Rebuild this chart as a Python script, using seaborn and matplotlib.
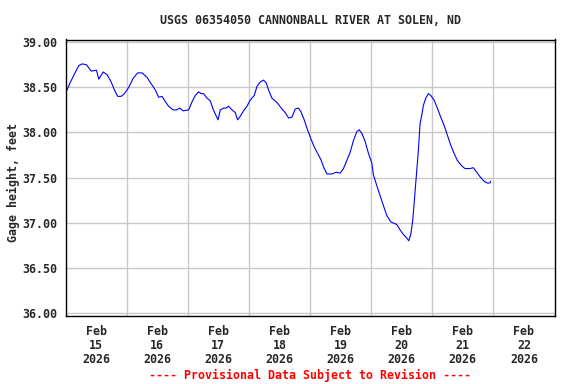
import matplotlib
matplotlib.use("Agg")
import matplotlib.pyplot as plt
import matplotlib.dates as mdates
import seaborn as sns
import pandas as pd
import numpy as np

# Data: hours since 2026-02-15 00:00 and gage height (feet)
hours = [0.27, 1.96, 3.92, 5.22, 6.55, 8.24, 10.08, 12.16, 13.06, 14.78, 16.35, 17.92,
         19.22, 20.51, 21.84, 23.14, 24.82, 26.55, 28.35, 30.08, 32.04, 33.61, 35.29,
         36.59, 37.92, 39.22, 40.51, 42.24, 43.53, 44.82, 46.16, 48.35, 49.69, 50.98,
         52.27, 53.22, 54.24, 55.57, 56.86, 57.92, 59.22, 59.88, 60.78, 62.08, 63.02,
         64.04, 65.37, 66.67, 67.57, 68.63, 69.92, 71.25, 72.55, 74.12, 75.18, 76.47,
         77.76, 78.82, 79.73, 81.06, 82.35, 83.65, 84.98, 86.27, 87.57, 88.90, 90.20,
         91.49, 92.43, 93.73, 95.02, 96.35, 97.65, 98.94, 100.27, 101.29, 102.63,
         104.59, 106.27, 107.84, 109.14, 110.47, 111.76, 113.06, 114.39, 115.29,
         116.35, 117.65, 118.94, 120.27, 120.90, 122.24, 123.53, 124.82, 126.16,
         127.73, 130.08, 131.37, 132.67, 134.00, 134.78, 135.57, 136.35, 136.98,
         137.65, 138.16, 138.55, 139.22, 139.88, 140.51, 141.45, 142.47, 143.41,
         144.71, 146.00, 147.33, 148.63, 149.92, 151.25, 152.55, 153.84, 155.57,
         156.86, 158.82, 160.12, 161.45, 162.75, 164.31, 165.61, 166.67, 166.94]
gage_ft = [38.45, 38.56, 38.67, 38.74, 38.76, 38.75, 38.68, 38.69, 38.59, 38.67, 38.64, 38.56,
           38.47, 38.40, 38.40, 38.43, 38.50, 38.60, 38.66, 38.66, 38.61, 38.54, 38.47,
           38.39, 38.40, 38.34, 38.29, 38.25, 38.25, 38.27, 38.24, 38.25, 38.34, 38.41,
           38.45, 38.43, 38.43, 38.38, 38.35, 38.26, 38.18, 38.14, 38.25, 38.27, 38.27,
           38.29, 38.25, 38.22, 38.14, 38.18, 38.24, 38.29, 38.36, 38.41, 38.51, 38.56,
           38.58, 38.55, 38.47, 38.38, 38.35, 38.31, 38.26, 38.22, 38.16, 38.17, 38.26,
           38.27, 38.23, 38.14, 38.03, 37.93, 37.84, 37.77, 37.70, 37.62, 37.54,
           37.54, 37.56, 37.55, 37.60, 37.69, 37.78, 37.91, 38.01, 38.03,
           37.99, 37.90, 37.77, 37.66, 37.53, 37.41, 37.30, 37.19, 37.08,
           37.01, 36.98, 36.92, 36.87, 36.83, 36.80, 36.87, 37.03, 37.25,
           37.47, 37.66, 37.80, 38.10, 38.19, 38.30, 38.38, 38.43, 38.41,
           38.36, 38.27, 38.17, 38.08, 37.97, 37.86, 37.77, 37.69, 37.63,
           37.60, 37.60, 37.61, 37.56, 37.51, 37.46, 37.44, 37.44, 37.46]

title = "USGS 06354050 CANNONBALL RIVER AT SOLEN, ND"
ylabel = "Gage height, feet"
footer = "---- Provisional Data Subject to Revision ----"
ytick_vals = [36.0, 36.5, 37.0, 37.5, 38.0, 38.5, 39.0]
day_labels = ["Feb\n15\n2026", "Feb\n16\n2026", "Feb\n17\n2026", "Feb\n18\n2026",
              "Feb\n19\n2026", "Feb\n20\n2026", "Feb\n21\n2026", "Feb\n22\n2026"]

start = pd.Timestamp("2026-02-15 00:00")
df = pd.DataFrame({"time": start + pd.to_timedelta(hours, unit="h"), "gage": gage_ft})

sns.set_style("white")
plt.rcParams['font.family'] = ['DejaVu Sans Mono']
plt.rcParams['font.weight'] = 'bold'
FS = 8.4

fig = plt.figure(figsize=(5.76, 3.84), dpi=100)
ax = fig.add_axes([65.5/576, 1-315.7/384, (554.5-65.5)/576, (315.7-39.5)/384])

sns.lineplot(data=df, x="time", y="gage", ax=ax, color="#0000ff", linewidth=0.8)

ax.set_xlim(start, start + pd.Timedelta(days=8))
ax.set_ylim(35.97, 39.03)

midnights = [start + pd.Timedelta(days=i) for i in range(1, 8)]
noons = [start + pd.Timedelta(days=i, hours=12) for i in range(8)]
ax.set_xticks(midnights)
ax.set_xticklabels([])
ax.set_xticks(noons, minor=True)
ax.set_xticklabels(day_labels, minor=True, fontsize=FS, fontweight='bold', linespacing=1.1)
ax.set_yticks(ytick_vals)
ax.set_yticklabels([f"{v:.2f}" for v in ytick_vals], fontsize=FS, fontweight='bold')
ax.tick_params(axis='both', which='both', length=0)
ax.tick_params(axis='y', pad=6)
ax.tick_params(axis='x', which='minor', pad=7)

ax.grid(True, which='major', color="#c8c8c8", linewidth=1.0)
ax.set_axisbelow(True)
for s in ax.spines.values():
    s.set_color("black")
    s.set_linewidth(1.0)
ax.set_xlabel("")
ax.set_ylabel("")

fig.text(310/576, 1-20/384, title, ha='center', va='center', fontsize=FS, fontweight='bold')
fig.text(13/576, 1-183/384, ylabel, ha='center', va='center', rotation=90, fontsize=FS, fontweight='bold')
fig.text(310/576, 1-375.5/384, footer, ha='center', va='center', fontsize=FS, fontweight='bold', color='red')

fig.savefig("out.png", dpi=100)
